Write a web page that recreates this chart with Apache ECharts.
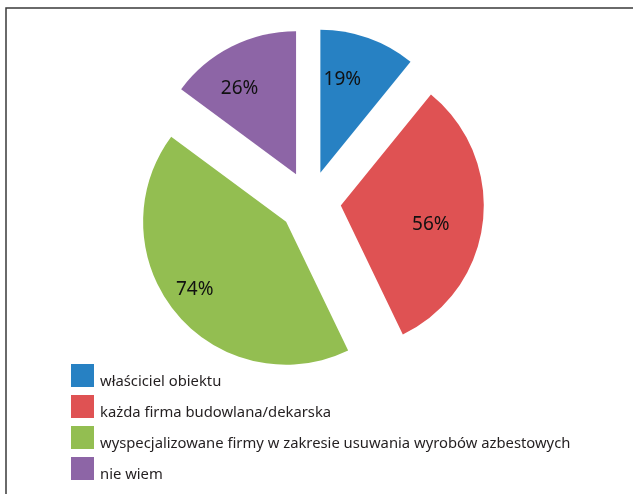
<!DOCTYPE html>
<html>
<head>
<meta charset="utf-8">
<script src="https://cdn.jsdelivr.net/npm/echarts@6/dist/echarts.min.js"></script>
<style>html,body{margin:0;padding:0;background:#fff;}#c{width:633px;height:494px;}</style>
</head>
<body>
<div id="c"></div>
<script>
const categories = ['właściciel obiektu', 'każda firma budowlana/dekarska', 'wyspecjalizowane firmy w zakresie usuwania wyrobów azbestowych', 'nie wiem'];
const values = [19, 56, 74, 26];
const colors = ['#2781C3', '#DF5253', '#93BE51', '#8D65A6'];
// label shift from the default inner position, [dx, dy]
const labelShifts = [[-3, -23], [16, 10], [-34, 20], [-23, -19]];

const chart = echarts.init(document.getElementById('c'), null, {renderer: 'canvas'});
chart.setOption({
  animation: false,
  backgroundColor: '#fff',
  graphic: [{
    type: 'polyline',
    shape: {points: [[6, 494], [6, 8], [633, 8]]},
    style: {stroke: '#3a3a3a', lineWidth: 1.5, fill: null}
  }],
  legend: {
    orient: 'vertical',
    left: 71,
    top: 362,
    padding: 0,
    itemWidth: 23,
    itemHeight: 23,
    itemGap: 4,
    icon: 'rect',
    selectedMode: false,
    formatter: name => '\n' + name,
    textStyle: {fontFamily: 'Noto Sans', fontSize: 14.8, lineHeight: 12, color: '#231f20', padding: [0, 0, 0, 1]},
    data: categories
  },
  series: [{
    type: 'pie',
    center: [310, 202],
    radius: [0, 143],
    startAngle: 90,
    clockwise: true,
    selectedMode: 'multiple',
    selectedOffset: 31,
    avoidLabelOverlap: false,
    emphasis: {disabled: true},
    label: {
      show: true,
      position: 'inner',
      formatter: '{c}%',
      fontFamily: 'Noto Sans',
      fontSize: 19,
      color: '#111'
    },
    labelLine: {show: false},
    labelLayout: params => ({dx: labelShifts[params.dataIndex][0], dy: labelShifts[params.dataIndex][1]}),
    data: categories.map((n, i) => ({
      name: n,
      value: values[i],
      selected: true,
      itemStyle: {color: colors[i]}
    }))
  }]
});
</script>
</body>
</html>
